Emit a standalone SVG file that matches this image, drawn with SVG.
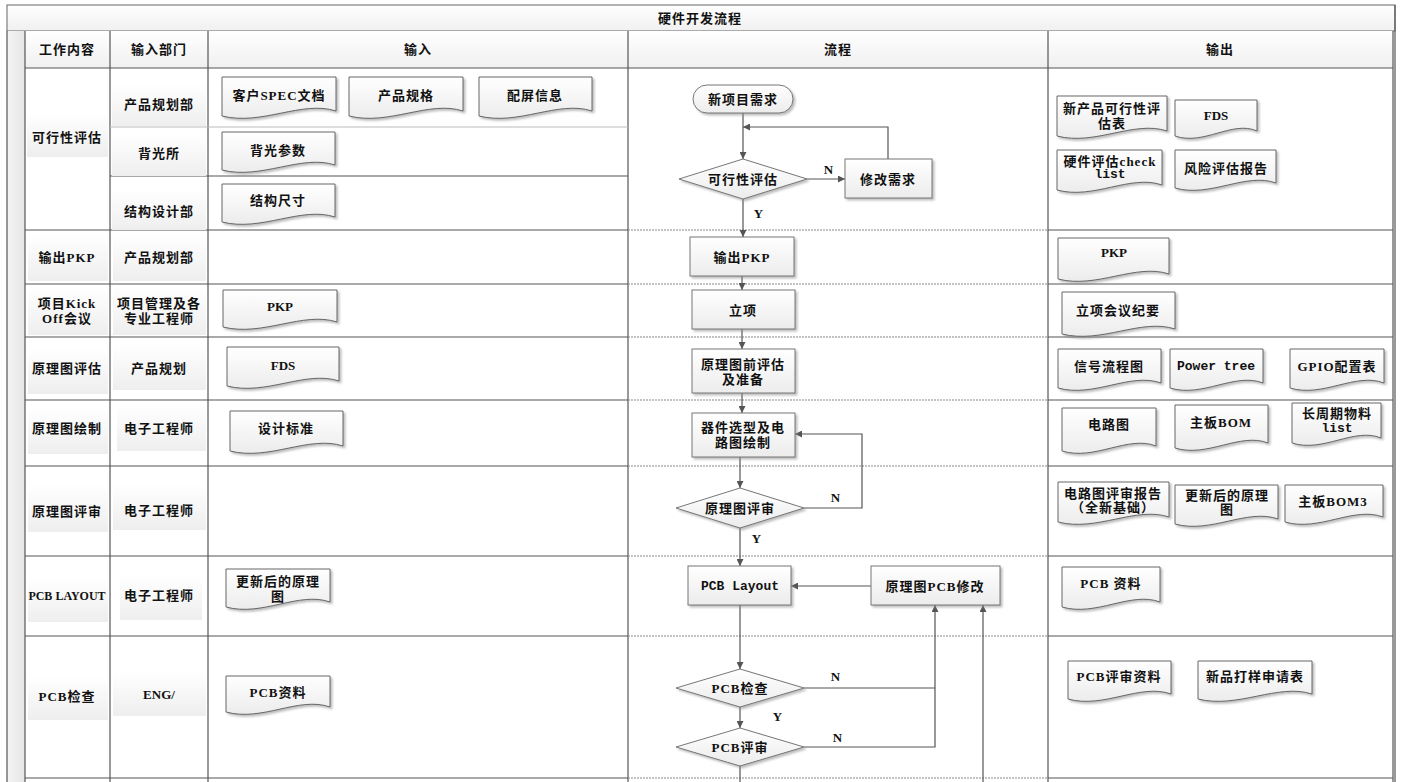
<svg xmlns="http://www.w3.org/2000/svg" width="1404" height="782" viewBox="0 0 1404 782">
<defs>
<style>
text{font-family:"Liberation Serif","Noto Sans CJK SC",serif;font-size:13px;font-weight:bold;fill:#111;text-anchor:middle;dominant-baseline:central;letter-spacing:1px}
.lat{letter-spacing:0}
.mono{font-family:"Liberation Mono","Noto Sans CJK SC",monospace;letter-spacing:0}
.grid{stroke:#555;stroke-width:1.2;fill:none}
.lite{stroke:#bbb;stroke-width:1;fill:none}
.dash{stroke:#888;stroke-width:1.2;stroke-dasharray:2 1;fill:none}
.doc{fill:url(#gDoc);stroke:#666;stroke-width:1;filter:url(#sh)}
.box{fill:url(#gDoc);stroke:#777;stroke-width:1;filter:url(#sh)}
.lbl{fill:url(#gLbl);stroke:none}
.con{stroke:#555;stroke-width:1.2;fill:none}
.arr{stroke:#555;stroke-width:1.2;fill:none;marker-end:url(#ah)}
</style>
<linearGradient id="gDoc" x1="0" y1="0" x2="0" y2="1"><stop offset="0" stop-color="#ffffff"/><stop offset="1" stop-color="#ececec"/></linearGradient>
<linearGradient id="gLbl" x1="0" y1="0" x2="0" y2="1"><stop offset="0" stop-color="#ffffff"/><stop offset="1" stop-color="#eeeeee"/></linearGradient>
<linearGradient id="gHdr" x1="0" y1="0" x2="0" y2="1"><stop offset="0" stop-color="#ffffff"/><stop offset="1" stop-color="#f0f0f0"/></linearGradient>
<linearGradient id="gStrip" x1="0" y1="0" x2="1" y2="0"><stop offset="0" stop-color="#f4f4f4"/><stop offset="1" stop-color="#e6e6e6"/></linearGradient>
<filter id="sh" x="-10%" y="-10%" width="130%" height="140%"><feDropShadow dx="2" dy="2" stdDeviation="1" flood-color="#888" flood-opacity="0.55"/></filter>
<marker id="ah" viewBox="0 0 10 10" refX="10" refY="5" markerWidth="7" markerHeight="7" markerUnits="userSpaceOnUse" orient="auto"><path d="M0,0 L10,5 L0,10 Z" fill="#555"/></marker>
</defs>

<g id="frame">
<rect x="0" y="0" width="1404" height="782" fill="#ffffff"/>
<rect x="7" y="5" width="1388" height="26" fill="url(#gHdr)" stroke="#666" stroke-width="1"/>
<text x="700" y="18">硬件开发流程</text>
<rect x="7" y="31" width="18" height="751" fill="url(#gStrip)"/>
<rect x="25" y="31" width="1368" height="37" fill="url(#gHdr)"/>
<line class="grid" x1="7" y1="31" x2="7" y2="782"/>
<line class="grid" x1="1395" y1="5" x2="1395" y2="782"/>
<line class="grid" x1="25" y1="31" x2="25" y2="782"/>
<line class="grid" x1="110" y1="31" x2="110" y2="782"/>
<line class="grid" x1="208" y1="31" x2="208" y2="782"/>
<line class="grid" x1="628" y1="31" x2="628" y2="782"/>
<line class="grid" x1="1048" y1="31" x2="1048" y2="782"/>
<line class="grid" x1="1393" y1="31" x2="1393" y2="782"/>
<line class="grid" x1="25" y1="68" x2="1393" y2="68"/>
<line class="lite" x1="110" y1="127" x2="628" y2="127"/>
<line class="grid" x1="110" y1="176" x2="628" y2="176"/>
<g>
<line class="grid" x1="25" y1="230" x2="628" y2="230"/><line class="dash" x1="628" y1="230" x2="1048" y2="230"/><line class="grid" x1="1048" y1="230" x2="1393" y2="230"/>
<line class="grid" x1="25" y1="284" x2="628" y2="284"/><line class="dash" x1="628" y1="284" x2="1048" y2="284"/><line class="grid" x1="1048" y1="284" x2="1393" y2="284"/>
<line class="grid" x1="25" y1="337" x2="628" y2="337"/><line class="dash" x1="628" y1="337" x2="1048" y2="337"/><line class="grid" x1="1048" y1="337" x2="1393" y2="337"/>
<line class="grid" x1="25" y1="400" x2="628" y2="400"/><line class="dash" x1="628" y1="400" x2="1048" y2="400"/><line class="grid" x1="1048" y1="400" x2="1393" y2="400"/>
<line class="grid" x1="25" y1="466" x2="628" y2="466"/><line class="dash" x1="628" y1="466" x2="1048" y2="466"/><line class="grid" x1="1048" y1="466" x2="1393" y2="466"/>
<line class="grid" x1="25" y1="556" x2="628" y2="556"/><line class="dash" x1="628" y1="556" x2="1048" y2="556"/><line class="grid" x1="1048" y1="556" x2="1393" y2="556"/>
<line class="grid" x1="25" y1="636" x2="628" y2="636"/><line class="dash" x1="628" y1="636" x2="1048" y2="636"/><line class="grid" x1="1048" y1="636" x2="1393" y2="636"/>
<line class="grid" x1="25" y1="778" x2="628" y2="778"/><line class="dash" x1="628" y1="778" x2="1048" y2="778"/><line class="grid" x1="1048" y1="778" x2="1393" y2="778"/>
</g>
</g>

<g id="headers">
<text x="67" y="49">工作内容</text>
<text x="159" y="49">输入部门</text>
<text x="418" y="49">输入</text>
<text x="838" y="49">流程</text>
<text x="1220" y="49">输出</text>
</g>

<g id="row-labels">
<rect class="lbl" x="27" y="113" width="81" height="44"/><text x="67" y="137">可行性评估</text>
<rect class="lbl" x="112" y="84" width="94" height="42"/><text x="159" y="104">产品规划部</text>
<rect class="lbl" x="112" y="134" width="94" height="42"/><text x="159" y="153">背光所</text>
<rect class="lbl" x="112" y="190" width="94" height="40"/><text x="159" y="211">结构设计部</text>
<rect class="lbl" x="28" y="235" width="80" height="46"/><text x="67" y="257">输出PKP</text>
<rect class="lbl" x="113" y="235" width="93" height="46"/><text x="159" y="257">产品规划部</text>
<rect class="lbl" x="28" y="287" width="80" height="48"/><text x="67" y="303">项目Kick</text><text x="67" y="318">Off会议</text>
<rect class="lbl" x="113" y="287" width="93" height="48"/><text x="159" y="303">项目管理及各</text><text x="159" y="318">专业工程师</text>
<rect class="lbl" x="28" y="348" width="80" height="46"/><text x="67" y="368">原理图评估</text>
<rect class="lbl" x="113" y="344" width="93" height="46"/><text x="159" y="368">产品规划</text>
<rect class="lbl" x="28" y="408" width="80" height="46"/><text x="67" y="428">原理图绘制</text>
<rect class="lbl" x="117" y="405" width="89" height="46"/><text x="159" y="428">电子工程师</text>
<rect class="lbl" x="28" y="484" width="80" height="48"/><text x="67" y="511">原理图评审</text>
<rect class="lbl" x="113" y="484" width="93" height="46"/><text x="159" y="510">电子工程师</text>
<rect class="lbl" x="28" y="578" width="80" height="44"/><text x="67" y="596" class="lat" style="font-size:12px">PCB LAYOUT</text>
<rect class="lbl" x="120" y="576" width="82" height="44"/><text x="159" y="595">电子工程师</text>
<rect class="lbl" x="28" y="676" width="80" height="44"/><text x="67" y="696">PCB检查</text>
<rect class="lbl" x="113" y="672" width="93" height="44"/><text x="159" y="694" class="lat">ENG/</text>
</g>

<g id="input-docs">
<g id="in-spec"><path class="doc" transform="translate(222,77)" d="M0,0 H114 V34 C79.8,23 39.9,49 0,39 Z"/><text x="279" y="95">客户SPEC文档</text></g>
<g id="in-guige"><path class="doc" transform="translate(349,77)" d="M0,0 H114 V34 C79.8,23 39.9,49 0,39 Z"/><text x="406" y="95">产品规格</text></g>
<g id="in-peiping"><path class="doc" transform="translate(479,77)" d="M0,0 H113 V34 C79.1,23 39.6,49 0,39 Z"/><text x="535" y="95">配屏信息</text></g>
<g id="in-bg"><path class="doc" transform="translate(222,132)" d="M0,0 H113 V33 C79.1,22 39.6,48 0,38 Z"/><text x="278" y="150">背光参数</text></g>
<g id="in-jg"><path class="doc" transform="translate(222,184)" d="M0,0 H113 V33 C79.1,22 39.6,48 0,38 Z"/><text x="278" y="200">结构尺寸</text></g>
<g id="in-pkp"><path class="doc" transform="translate(223,290)" d="M0,0 H114 V32 C79.8,21 39.9,47 0,37 Z"/><text x="280" y="306" class="lat">PKP</text></g>
<g id="in-fds"><path class="doc" transform="translate(227,347)" d="M0,0 H112 V34 C78.4,23 39.2,49 0,39 Z"/><text x="283" y="365" class="lat">FDS</text></g>
<g id="in-std"><path class="doc" transform="translate(230,411)" d="M0,0 H113 V35 C79.1,24 39.6,50 0,40 Z"/><text x="286" y="428">设计标准</text></g>
<g id="in-sch"><path class="doc" transform="translate(226,569)" d="M0,0 H104 V33 C72.8,22 36.4,48 0,38 Z"/><text x="278" y="581">更新后的原理</text><text x="278" y="596">图</text></g>
<g id="in-pcb"><path class="doc" transform="translate(226,676)" d="M0,0 H104 V31 C72.8,20 36.4,46 0,36 Z"/><text x="278" y="692">PCB资料</text></g>
</g>

<g id="output-docs">
<g id="out-kxx"><path class="doc" transform="translate(1057,96)" d="M0,0 H110 V35 C77,24 38.5,50 0,40 Z"/><text x="1112" y="108">新产品可行性评</text><text x="1112" y="123">估表</text></g>
<g id="out-fds"><path class="doc" transform="translate(1175,100)" d="M0,0 H82 V31 C57.4,20 28.7,46 0,36 Z"/><text x="1216" y="115" class="lat">FDS</text></g>
<g id="out-check"><path class="doc" transform="translate(1057,150)" d="M0,0 H105 V35 C73.5,24 36.75,50 0,40 Z"/><text x="1110" y="161">硬件评估check</text><text x="1110" y="174" class="mono">list</text></g>
<g id="out-risk"><path class="doc" transform="translate(1175,150)" d="M0,0 H101 V33 C70.7,22 35.35,48 0,38 Z"/><text x="1226" y="168">风险评估报告</text></g>
<g id="out-pkp"><path class="doc" transform="translate(1058,238)" d="M0,0 H111 V36 C77.7,25 38.85,51 0,41 Z"/><text x="1114" y="252" class="lat">PKP</text></g>
<g id="out-lx"><path class="doc" transform="translate(1062,292)" d="M0,0 H113 V37 C79.1,26 39.55,52 0,42 Z"/><text x="1118" y="310">立项会议纪要</text></g>
<g id="out-sig"><path class="doc" transform="translate(1058,349)" d="M0,0 H103 V34 C72.1,23 36.05,49 0,39 Z"/><text x="1109" y="366">信号流程图</text></g>
<g id="out-pwr"><path class="doc" transform="translate(1170,349)" d="M0,0 H93 V34 C65.1,23 32.55,49 0,39 Z"/><text x="1216" y="366" class="mono">Power tree</text></g>
<g id="out-gpio"><path class="doc" transform="translate(1290,349)" d="M0,0 H94 V34 C65.8,23 32.9,49 0,39 Z"/><text x="1337" y="366">GPIO配置表</text></g>
<g id="out-sch"><path class="doc" transform="translate(1062,408)" d="M0,0 H94 V38 C65.8,27 32.9,53 0,43 Z"/><text x="1109" y="424">电路图</text></g>
<g id="out-bom"><path class="doc" transform="translate(1175,405)" d="M0,0 H93 V38 C65.1,27 32.55,53 0,43 Z"/><text x="1221" y="422">主板BOM</text></g>
<g id="out-long"><path class="doc" transform="translate(1292,403)" d="M0,0 H89 V35 C62.3,24 31.15,50 0,40 Z"/><text x="1337" y="413">长周期物料</text><text x="1337" y="428" class="mono">list</text></g>
<g id="out-review"><path class="doc" transform="translate(1058,482)" d="M0,0 H111 V35 C77.7,24 38.85,50 0,40 Z"/><text x="1113" y="493">电路图评审报告</text><text x="1113" y="507">（全新基础）</text></g>
<g id="out-sch2"><path class="doc" transform="translate(1175,485)" d="M0,0 H103 V34 C72.1,23 36.05,49 0,39 Z"/><text x="1227" y="495">更新后的原理</text><text x="1227" y="509">图</text></g>
<g id="out-bom3"><path class="doc" transform="translate(1285,485)" d="M0,0 H98 V32 C68.6,21 34.3,47 0,37 Z"/><text x="1333" y="501">主板BOM3</text></g>
<g id="out-pcb"><path class="doc" transform="translate(1062,567)" d="M0,0 H98 V35 C68.6,24 34.3,50 0,40 Z"/><text x="1111" y="583">PCB 资料</text></g>
<g id="out-pcbrev"><path class="doc" transform="translate(1068,661)" d="M0,0 H103 V33 C72.1,22 36.05,48 0,38 Z"/><text x="1119" y="676">PCB评审资料</text></g>
<g id="out-sample"><path class="doc" transform="translate(1198,661)" d="M0,0 H114 V33 C79.8,22 39.9,48 0,38 Z"/><text x="1255" y="676">新品打样申请表</text></g>
</g>

<g id="connectors">
<line class="arr" x1="743" y1="113" x2="743" y2="159"/>
<polyline class="arr" points="888,159 888,127 743,127"/>
<line class="arr" x1="807" y1="179" x2="845" y2="179"/>
<line class="arr" x1="743" y1="199" x2="743" y2="237"/>
<line class="arr" x1="742" y1="276" x2="742" y2="290"/>
<line class="arr" x1="742" y1="329" x2="742" y2="349"/>
<line class="arr" x1="742" y1="393" x2="742" y2="413"/>
<line class="arr" x1="740" y1="457" x2="740" y2="488"/>
<polyline class="arr" points="804,508 862,508 862,434 795,434"/>
<line class="arr" x1="740" y1="528" x2="740" y2="566"/>
<line class="arr" x1="871" y1="586" x2="791" y2="586"/>
<line class="arr" x1="740" y1="605" x2="740" y2="669"/>
<line class="con" x1="804" y1="688" x2="935" y2="688"/>
<polyline class="arr" points="804,747 935,747 935,605"/>
<line class="arr" x1="740" y1="707" x2="740" y2="728"/>
<line class="con" x1="740" y1="766" x2="740" y2="782"/>
<line class="arr" x1="983" y1="782" x2="983" y2="605"/>
<text x="829" y="169">N</text>
<text x="759" y="213">Y</text>
<text x="836" y="497">N</text>
<text x="757" y="538">Y</text>
<text x="836" y="676">N</text>
<text x="778" y="716">Y</text>
<text x="838" y="737">N</text>
</g>

<g id="flow-nodes">
<g id="n-start"><rect class="box" x="693" y="85" width="100" height="28" rx="14"/><text x="743" y="99">新项目需求</text></g>
<g id="n-feas"><polygon class="box" points="679,179 743,159 807,179 743,199"/><text x="743" y="179">可行性评估</text></g>
<g id="n-modify"><rect class="box" x="845" y="159" width="87" height="39"/><text x="888" y="179">修改需求</text></g>
<g id="n-pkp"><rect class="box" x="690" y="237" width="104" height="39"/><text x="742" y="257">输出PKP</text></g>
<g id="n-lx"><rect class="box" x="692" y="290" width="103" height="39"/><text x="743" y="310">立项</text></g>
<g id="n-pre"><rect class="box" x="692" y="349" width="103" height="44"/><text x="743" y="364">原理图前评估</text><text x="743" y="379">及准备</text></g>
<g id="n-draw"><rect class="box" x="692" y="413" width="103" height="44"/><text x="743" y="427">器件选型及电</text><text x="743" y="442">路图绘制</text></g>
<g id="n-review"><polygon class="box" points="676,508 740,488 804,508 740,528"/><text x="740" y="508">原理图评审</text></g>
<g id="n-layout"><rect class="box" x="688" y="566" width="103" height="39"/><text x="740" y="586" class="mono" style="font-weight:bold">PCB Layout</text></g>
<g id="n-mod2"><rect class="box" x="871" y="566" width="129" height="39"/><text x="935" y="586">原理图PCB修改</text></g>
<g id="n-check"><polygon class="box" points="676,688 740,669 804,688 740,707"/><text x="740" y="688">PCB检查</text></g>
<g id="n-pcbrev"><polygon class="box" points="676,747 740,728 804,747 740,766"/><text x="740" y="747">PCB评审</text></g>
</g>
</svg>
